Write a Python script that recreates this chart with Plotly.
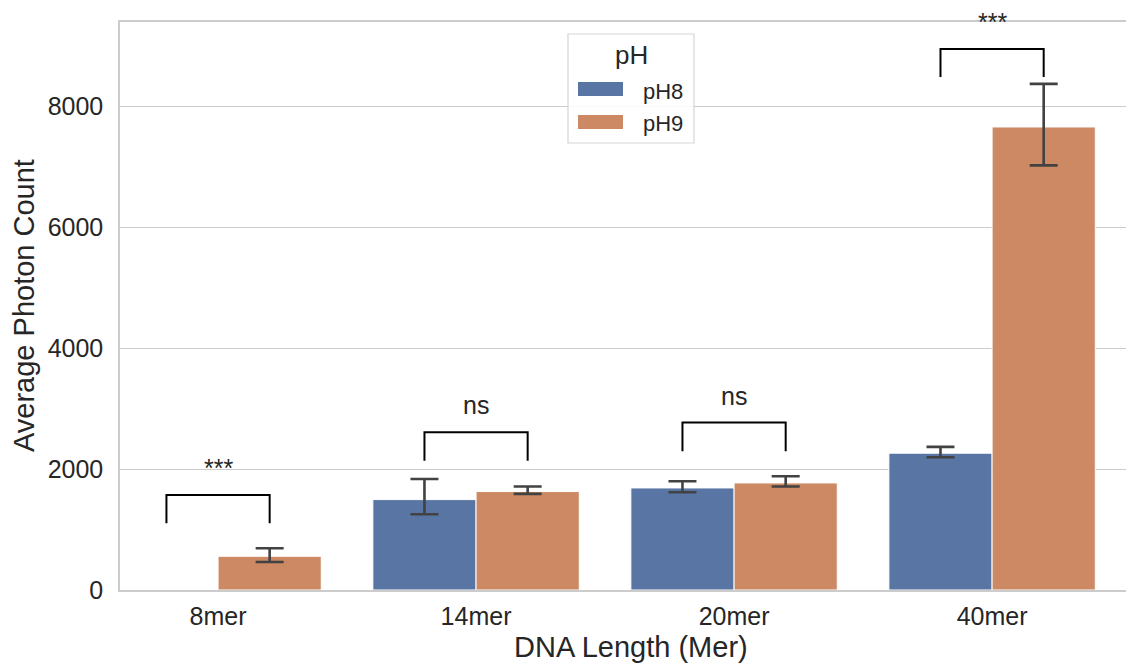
import plotly.graph_objects as go

# ---------------- data ----------------
categories = ["8mer", "14mer", "20mer", "40mer"]
ph8_mean = [None, 1496, 1689, 2264]
ph8_upper = [None, 1838, 1800, 2368]
ph8_lower = [None, 1253, 1618, 2198]
ph9_mean = [558, 1629, 1772, 7663]
ph9_upper = [690, 1712, 1883, 8376]
ph9_lower = [464, 1590, 1712, 7028]
bracket_base = [1105, 2137, 2297, 8491]
bracket_top = [1573, 2611, 2772, 8955]
sig_labels = ["***", "ns", "ns", "***"]
y_ticks = [0, 2000, 4000, 6000, 8000]
series_names = ["pH8", "pH9"]

BLUE = "#5875a4"
ORANGE = "#cc8963"
TEXT = "#262626"
GRID = "#cccccc"
ERR = "#424242"
FONT = "Liberation Sans, Arial, Helvetica, sans-serif"


def err_plus(mean, upper):
    return [None if m is None else u - m for m, u in zip(mean, upper)]


def err_minus(mean, lower):
    return [None if m is None else m - l for m, l in zip(mean, lower)]


x_idx = list(range(len(categories)))
bargap = 0.2
hue_offset = (1 - bargap) / 4  # center offset of each hue bar

fig = go.Figure()
for name, mean, up, lo, col in [
    (series_names[0], ph8_mean, ph8_upper, ph8_lower, BLUE),
    (series_names[1], ph9_mean, ph9_upper, ph9_lower, ORANGE),
]:
    fig.add_trace(go.Bar(
        x=x_idx, y=mean, name=name,
        marker=dict(color=col, line=dict(color="white", width=1)),
        error_y=dict(type="data", array=err_plus(mean, up),
                     arrayminus=err_minus(mean, lo), symmetric=False,
                     color=ERR, thickness=2.6, width=14),
        showlegend=False,
    ))

# significance brackets
bx, by = [], []
for i, (b, t) in enumerate(zip(bracket_base, bracket_top)):
    x0, x1 = i - hue_offset, i + hue_offset
    bx += [x0, x0, x1, x1, None]
    by += [b, t, t, b, None]
fig.add_trace(go.Scatter(x=bx, y=by, mode="lines",
                         line=dict(color="black", width=2),
                         showlegend=False, hoverinfo="skip"))

annotations = []
for i, (t, lab) in enumerate(zip(bracket_top, sig_labels)):
    annotations.append(dict(x=i, y=t, xref="x", yref="y", text=lab,
                            showarrow=False, yanchor="bottom", yshift=12,
                            borderpad=0,
                            font=dict(size=25, color=TEXT, family=FONT)))

# page offset (default body margin) and plot-area geometry in page pixels
OFF = 8
FIG_W, FIG_H = 1134 - OFF, 664 - OFF
L, R, T, B = 120, 1134, 22, 590
W, H = R - L, B - T


def px(x):
    return (x - L) / W


def py(y):
    return (B - y) / H


# axis titles
annotations += [
    dict(x=px(631), y=py(647), xref="paper", yref="paper",
         text="DNA Length (Mer)", showarrow=False, borderpad=0,
         xanchor="center", yanchor="middle",
         font=dict(size=29, color=TEXT, family=FONT)),
    dict(x=px(24), y=py(306), xref="paper", yref="paper",
         text="Average Photon Count", showarrow=False, textangle=-90,
         xanchor="center", yanchor="middle",
         font=dict(size=29, color=TEXT, family=FONT)),
]

# manual legend
shapes = [
    dict(type="rect", xref="paper", yref="paper",
         x0=px(568), x1=px(694), y0=py(143), y1=py(34),
         line=dict(color="#d5d5d5", width=1.2), fillcolor="rgba(255,255,255,0.85)",
         layer="above"),
    dict(type="rect", xref="paper", yref="paper",
         x0=px(578), x1=px(623), y0=py(96), y1=py(82),
         line=dict(width=0), fillcolor=BLUE, layer="above"),
    dict(type="rect", xref="paper", yref="paper",
         x0=px(578), x1=px(623), y0=py(129), y1=py(115),
         line=dict(width=0), fillcolor=ORANGE, layer="above"),
]
annotations += [
    dict(x=px(631), y=py(55), xref="paper", yref="paper", text="pH",
         showarrow=False, xanchor="center", yanchor="middle",
         font=dict(size=26, color=TEXT, family=FONT)),
    dict(x=px(641), y=py(91), xref="paper", yref="paper", text=series_names[0],
         showarrow=False, xanchor="left", yanchor="middle",
         font=dict(size=22, color=TEXT, family=FONT)),
    dict(x=px(641), y=py(123.5), xref="paper", yref="paper", text=series_names[1],
         showarrow=False, xanchor="left", yanchor="middle",
         font=dict(size=22, color=TEXT, family=FONT)),
]

fig.update_layout(
    width=FIG_W, height=FIG_H,
    margin=dict(l=L - OFF, r=1134 - R, t=T - OFF, b=664 - B, autoexpand=False),
    paper_bgcolor="white", plot_bgcolor="white",
    barmode="group", bargap=bargap, bargroupgap=0,
    font=dict(family=FONT, color=TEXT, size=24),
    shapes=shapes, annotations=annotations,
    showlegend=False,
    xaxis=dict(
        range=[-0.38, 3.55], tickvals=x_idx, ticktext=categories,
        showgrid=False, zeroline=False, showline=True, mirror=True,
        linecolor=GRID, linewidth=1.5, ticks="", automargin=False,
        tickfont=dict(size=25, color=TEXT, family=FONT),
        ticklabelstandoff=3,
    ),
    yaxis=dict(
        range=[0, 9400], tickvals=y_ticks,
        showgrid=True, gridcolor=GRID, gridwidth=1.2, zeroline=False,
        showline=True, linecolor=GRID, linewidth=1.5, ticks="", automargin=False,
        tickfont=dict(size=25, color=TEXT, family=FONT),
        ticklabelstandoff=10,
    ),
)

fig.write_html("out.html")
